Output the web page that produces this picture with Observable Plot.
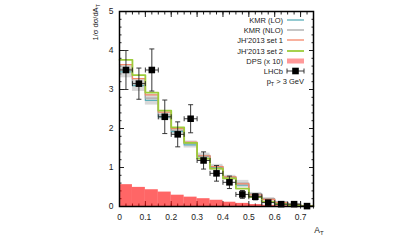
<!DOCTYPE html>
<html><head><meta charset="utf-8">
<script src="https://cdn.jsdelivr.net/npm/d3@7"></script>
<script src="https://cdn.jsdelivr.net/npm/@observablehq/plot@0.6"></script>
<style>
body{margin:0;background:#fff;}
svg{font-family:"Liberation Sans",Arial,sans-serif;}
</style>
</head><body><div id="chart"></div>
<script>
// ---- data ----
const binStart = [0,0.05,0.1,0.15,0.2,0.25,0.3,0.35,0.4,0.45,0.5,0.55,0.6,0.65,0.7];
const binWidth = 0.05;
const xMax = 0.75;
const bandLo = [3.30,2.95,2.60,2.22,1.85,1.50,1.20,0.92,0.68,0.48,0.25,0.14,0.07,0.03,0.01];
const bandHi = [3.62,3.28,2.88,2.42,2.00,1.68,1.37,1.08,0.80,0.67,0.36,0.23,0.13,0.08,0.03];
const kmrLO  = [3.45,3.10,2.72,2.30,1.92,1.58,1.28,1.00,0.74,0.55,0.30,0.18,0.10,0.05,0.02];
const kmrNLO = [3.52,3.16,2.78,2.35,1.95,1.62,1.31,1.03,0.76,0.60,0.33,0.20,0.11,0.06,0.02];
const jhSet1 = [3.64,3.28,2.86,2.42,2.00,1.65,1.30,1.02,0.76,0.58,0.30,0.18,0.10,0.05,0.02];
const jhSet2 = [3.76,3.37,2.92,2.46,2.03,1.63,1.23,0.97,0.72,0.46,0.24,0.12,0.06,0.03,0.01];
const dps    = [0.56,0.49,0.43,0.37,0.29,0.24,0.20,0.16,0.11,0.08,0.05,0.03,0.02,0.01,0.01];
const lhcbX  = [0.025,0.075,0.125,0.175,0.225,0.275,0.325,0.375,0.425,0.475,0.525,0.575,0.625,0.675,0.725];
const lhcbY  = [3.50,3.15,3.50,2.30,1.85,2.25,1.18,0.85,0.62,0.31,0.25,0.10,0.06,0.06,0.01];
const lhcbErr= [0.50,0.40,0.54,0.43,0.32,0.36,0.22,0.20,0.16,0.10,0.08,0.05,0.03,0.03,0.02];
const xTickLabels = [0,0.1,0.2,0.3,0.4,0.5,0.6,0.7];
const yTickLabels = [0,1,2,3,4,5];
const legendLabels = ["KMR (LO)","KMR (NLO)","JH'2013 set 1","JH'2013 set 2","DPS (x 10)","LHCb"];

// ---- derived tables ----
const bins = binStart.map((x,i)=>({x1:x, x2:x+binWidth, lo:bandLo[i], hi:bandHi[i], dps:dps[i]}));
const stepData = arr => binStart.map((x,i)=>({x, y:arr[i]})).concat([{x:xMax, y:arr[arr.length-1]}]);
const pts = lhcbX.map((x,i)=>({x, y:lhcbY[i], lo:lhcbY[i]-lhcbErr[i], hi:lhcbY[i]+lhcbErr[i], xl:x-binWidth/2, xr:x+binWidth/2}));

const colors = {lo:"#5aaeb8", nlo:"#a8a8a8", set1:"#f4876a", set2:"#9ccc3a", dps:"#ff0000"};
const hcap = {draw(c){c.moveTo(-2.5,0);c.lineTo(2.5,0);}};
const vcap = {draw(c){c.moveTo(0,-2.5);c.lineTo(0,2.5);}};

const xMajor = d3.range(0, 0.7501, 0.1);
const xMinor = d3.range(0, 0.7501, 0.025);
const yMajor = d3.range(0, 5.001, 1);
const yMinor = d3.range(0, 5.001, 0.2);
const fmtX = d => d === 0 ? "0" : d.toFixed(1);
const blank = () => "";

const W = 414, H = 249, ML = 119, MR = 101, MT = 11, MB = 43;

const plot = Plot.plot({
  width: W, height: H,
  marginLeft: ML, marginRight: MR, marginTop: MT, marginBottom: MB,
  style: {fontSize: "8.5px", fontFamily: "Liberation Sans, Arial, sans-serif", color: "#222"},
  x: {domain: [0, xMax]},
  y: {domain: [0, 5]},
  marks: [
    Plot.axisX(xTickLabels, {anchor: "bottom", tickSize: 0, tickPadding: 7, tickFormat: fmtX, label: null}),
    Plot.axisY(yTickLabels, {anchor: "left", tickSize: 0, tickPadding: 6, label: null}),
    Plot.axisX(xMinor, {anchor: "bottom", tickSize: -2.5, tickFormat: blank, label: null}),
    Plot.axisX(xMajor, {anchor: "bottom", tickSize: -5, tickFormat: blank, label: null}),
    Plot.axisX(xMinor, {anchor: "top", tickSize: -2.5, tickFormat: blank, label: null}),
    Plot.axisX(xMajor, {anchor: "top", tickSize: -5, tickFormat: blank, label: null}),
    Plot.axisY(yMinor, {anchor: "left", tickSize: -2.5, tickFormat: blank, label: null}),
    Plot.axisY(yMajor, {anchor: "left", tickSize: -5, tickFormat: blank, label: null}),
    Plot.axisY(yMinor, {anchor: "right", tickSize: -2.5, tickFormat: blank, label: null}),
    Plot.axisY(yMajor, {anchor: "right", tickSize: -5, tickFormat: blank, label: null}),
    Plot.rectY(bins, {x1: "x1", x2: "x2", y: "dps", fill: colors.dps, fillOpacity: 0.6}),
    Plot.rect(bins, {x1: "x1", x2: "x2", y1: "lo", y2: "hi", fill: "#b8b8b8", fillOpacity: 0.55}),
    Plot.line(stepData(kmrLO), {x: "x", y: "y", curve: "step-after", stroke: colors.lo, strokeWidth: 1.2}),
    Plot.line(stepData(kmrNLO), {x: "x", y: "y", curve: "step-after", stroke: colors.nlo, strokeWidth: 1.2}),
    Plot.line(stepData(jhSet1), {x: "x", y: "y", curve: "step-after", stroke: colors.set1, strokeWidth: 1.3}),
    Plot.line(stepData(jhSet2), {x: "x", y: "y", curve: "step-after", stroke: colors.set2, strokeWidth: 1.8}),
    Plot.link(pts, {x1: "x", x2: "x", y1: "lo", y2: "hi", stroke: "#222", strokeWidth: 0.9}),
    Plot.link(pts, {x1: "xl", x2: "xr", y1: "y", y2: "y", stroke: "#222", strokeWidth: 0.9}),
    Plot.dot(pts, {x: "x", y: "lo", symbol: hcap, stroke: "#222", strokeWidth: 0.9}),
    Plot.dot(pts, {x: "x", y: "hi", symbol: hcap, stroke: "#222", strokeWidth: 0.9}),
    Plot.dot(pts, {x: "xl", y: "y", symbol: vcap, stroke: "#222", strokeWidth: 0.9}),
    Plot.dot(pts, {x: "xr", y: "y", symbol: vcap, stroke: "#222", strokeWidth: 0.9}),
    Plot.dot(pts, {x: "x", y: "y", symbol: "square", r: 3.7, fill: "#000"}),
    Plot.frame({stroke: "#000", strokeWidth: 1.5})
  ]
});

document.getElementById("chart").appendChild(plot);

// ---- labels and legend ----
const svg = d3.select(plot);
const fs = 7.5;
const ylab = svg.append("text")
  .attr("transform", `translate(98,4) rotate(-90)`)
  .attr("text-anchor", "end").attr("font-size", fs + "px").attr("fill", "#222");
ylab.append("tspan").text("1/σ dσ/dA");
ylab.append("tspan").attr("font-size", "5.5px").attr("dy", 2).text("T");

const xlab = svg.append("text").attr("x", 319).attr("y", 233).attr("font-size", "8.5px").attr("fill", "#222");
xlab.append("tspan").text("A");
xlab.append("tspan").attr("font-size", "6px").attr("dy", 2).text("T");

const tx = 283, s0 = 287, s1 = 304, rowY = [20, 30, 40, 51, 61, 71, 81];
const g = svg.append("g").attr("font-size", fs + "px").attr("fill", "#222");
legendLabels.forEach((lab, i) => {
  g.append("text").attr("x", tx).attr("y", rowY[i]).attr("dy", "0.35em").attr("text-anchor", "end").text(lab);
});
const lcol = [colors.lo, colors.nlo, colors.set1, colors.set2];
lcol.forEach((c, i) => {
  g.append("line").attr("x1", s0).attr("x2", s1).attr("y1", rowY[i]).attr("y2", rowY[i])
    .attr("stroke", c).attr("stroke-width", i === 3 ? 1.8 : 1.3);
});
g.append("rect").attr("x", s0).attr("y", rowY[4] - 2.5).attr("width", s1 - s0).attr("height", 5)
  .attr("fill", colors.dps).attr("fill-opacity", 0.4);
const ly = rowY[5], mid = (s0 + s1) / 2;
g.append("line").attr("x1", s0).attr("x2", s1).attr("y1", ly).attr("y2", ly).attr("stroke", "#222").attr("stroke-width", 0.9);
g.append("line").attr("x1", s0).attr("x2", s0).attr("y1", ly - 2.5).attr("y2", ly + 2.5).attr("stroke", "#222").attr("stroke-width", 0.9);
g.append("line").attr("x1", s1).attr("x2", s1).attr("y1", ly - 2.5).attr("y2", ly + 2.5).attr("stroke", "#222").attr("stroke-width", 0.9);
g.append("rect").attr("x", mid - 3.3).attr("y", ly - 3.3).attr("width", 6.6).attr("height", 6.6).attr("fill", "#000");
const pt = g.append("text").attr("x", s1).attr("y", rowY[6]).attr("dy", "0.35em").attr("text-anchor", "end");
pt.append("tspan").text("p");
pt.append("tspan").attr("font-size", "5.5px").attr("dy", 2).text("T");
pt.append("tspan").attr("dy", -2).text(" > 3 GeV");
</script></body></html>
